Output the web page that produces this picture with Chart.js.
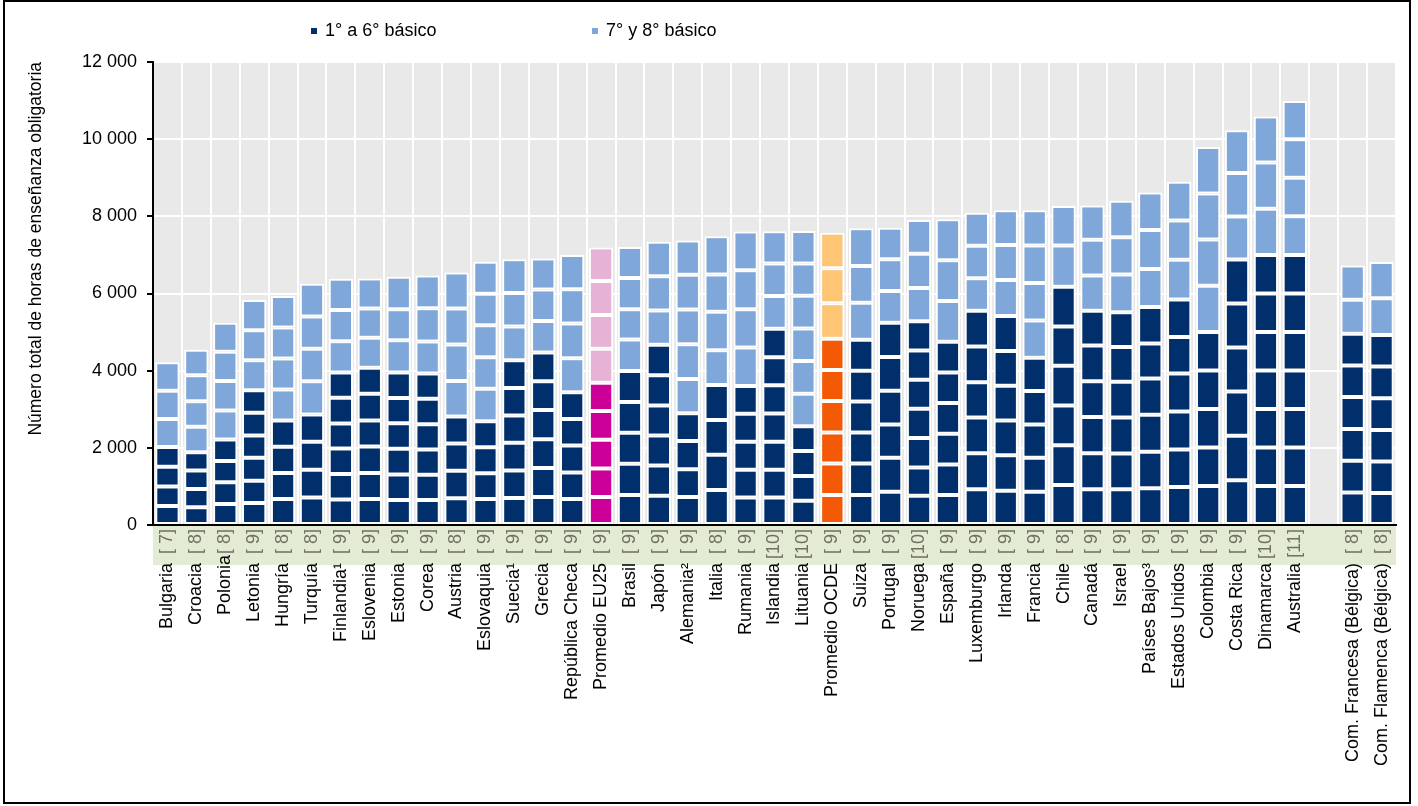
<!DOCTYPE html>
<html lang="es">
<head>
<meta charset="utf-8">
<title>Número total de horas de enseñanza obligatoria</title>
<script src="https://cdn.jsdelivr.net/npm/chart.js@4.4.1/dist/chart.umd.min.js"></script>
<style>
  html, body { margin: 0; padding: 0; background: #fff; }
  #grafico { display: block; }
</style>
</head>
<body>
<canvas id="grafico" width="1418" height="806"></canvas>
<script>
// Horas de enseñanza obligatoria por grado (cada segmento = un grado)

const paises = [
    'Bulgaria', 'Croacia', 'Polonia', 'Letonia', 'Hungría', 'Turquía', 'Finlandia¹', 'Eslovenia',
    'Estonia', 'Corea', 'Austria', 'Eslovaquia', 'Suecia¹', 'Grecia', 'República Checa', 'Promedio EU25',
    'Brasil', 'Japón', 'Alemania²', 'Italia', 'Rumania', 'Islandia', 'Lituania', 'Promedio OCDE',
    'Suiza', 'Portugal', 'Noruega', 'España', 'Luxemburgo', 'Irlanda', 'Francia', 'Chile',
    'Canadá', 'Israel', 'Países Bajos³', 'Estados Unidos', 'Colombia', 'Costa Rica', 'Dinamarca', 'Australia',
    '', 'Com. Francesa (Bélgica)', 'Com. Flamenca (Bélgica)'
];

// número de grados de la enseñanza obligatoria [n]
const nGrados = [7, 8, 8, 9, 8, 8, 9, 9, 9, 9, 8, 9, 9, 9, 9, 9, 9, 9, 9, 8, 9, 10, 10, 9,
    9, 9, 10, 9, 9, 9, 9, 8, 9, 9, 9, 9, 9, 9, 10, 11, null, 8, 8];

// cuántos de esos grados van en el color "1° a 6° básico"
const nBasico = [4, 4, 4, 6, 4, 4, 6, 6, 6, 6, 4, 4, 6, 6, 5, 5, 5, 6, 4, 4, 5, 7, 4, 6,
    6, 6, 7, 6, 6, 6, 5, 6, 6, 6, 6, 6, 5, 6, 7, 7, 0, 6, 6];

const grado1 = [490, 460, 545, 570, 675, 710, 660, 675, 650, 650, 695, 675, 700, 725, 675, 725,
    780, 760, 725, 910, 710, 710, 630, 780, 780, 865, 755, 780, 925, 890, 865, 1035,
    925, 925, 950, 985, 1010, 1160, 1010, 1010, null, 845, 830];
const grado2 = [510, 475, 560, 580, 675, 720, 660, 675, 660, 650, 710, 665, 710, 755, 685, 740,
    805, 780, 720, 910, 720, 720, 640, 815, 815, 875, 735, 790, 935, 915, 875, 1030,
    935, 925, 950, 975, 1000, 1150, 1000, 1000, null, 820, 815];
const grado3 = [510, 475, 555, 590, 675, 725, 660, 685, 665, 660, 710, 675, 720, 745, 700, 745,
    805, 780, 730, 900, 725, 725, 650, 805, 800, 865, 765, 795, 925, 905, 865, 1030,
    940, 935, 960, 980, 995, 1150, 995, 995, null, 820, 820];
const grado4 = [510, 475, 555, 580, 685, 710, 650, 675, 665, 650, 700, 675, 710, 755, 685, 745,
    795, 780, 720, 910, 730, 735, 640, 815, 805, 875, 755, 800, 915, 900, 865, 1030,
    925, 925, 940, 985, 1000, 1140, 1000, 1000, null, 830, 820];
const grado5 = [730, 660, 755, 590, 805, 860, 665, 690, 650, 665, 915, 840, 710, 745, 695, 735,
    805, 780, 890, 900, 720, 735, 840, 805, 795, 875, 755, 790, 925, 900, 865, 1020,
    925, 905, 905, 950, 995, 1140, 995, 995, null, 820, 820];
const grado6 = [730, 660, 760, 580, 800, 840, 660, 675, 660, 650, 945, 815, 720, 745, 885, 875,
    815, 790, 900, 995, 995, 725, 850, 805, 805, 885, 760, 795, 925, 905, 965, 1030,
    900, 900, 945, 970, 1200, 1140, 1000, 1000, null, 820, 820];
const grado7 = [740, 675, 760, 780, 805, 840, 805, 780, 840, 830, 935, 830, 875, 820, 900, 875,
    790, 890, 900, 970, 995, 735, 840, 920, 960, 825, 755, 1055, 845, 935, 970, 1070,
    915, 975, 985, 1030, 1200, 1115, 995, 995, null, 880, 950];
const grado8 = [null, 660, 755, 780, 815, 850, 815, 755, 805, 860, 935, 820, 865, 815, 885, 885,
    805, 890, 900, 990, 1005, 850, 850, 910, 955, 825, 865, 1055, 845, 905, 975, 1020,
    925, 965, 1010, 1020, 1195, 1130, 1200, 1010, null, 890, 940];
const grado9 = [null, null, null, 780, null, null, 805, 780, 840, 850, null, 825, 875, 805, 885, 865,
    805, 890, 890, null, 1005, 840, 840, 920, 975, 815, 885, 1065, 855, 900, 915, null,
    890, 950, 970, 1000, 1200, 1105, 1200, 995, null, null, null];
const grado10 = [null, null, null, null, null, null, null, null, null, null, null, null, null, null, null, null,
    null, null, null, null, null, 840, 840, null, null, null, 875, null, null, null, null, null,
    null, null, null, null, null, null, 1195, 995, null, null, null];
const grado11 = [null, null, null, null, null, null, null, null, null, null, null, null, null, null, null, null,
    null, null, null, null, null, null, null, null, null, null, null, null, null, null, null, null,
    null, null, null, null, null, null, null, 995, null, null, null];

const grados = [grado1, grado2, grado3, grado4, grado5, grado6, grado7, grado8, grado9, grado10, grado11];

const FUENTE = '"Liberation Sans", Arial, sans-serif';
const colorBasico = '#002F6C';
const colorMedio = '#7FA7D9';

function colorSegmento(ctx) {
    const i = ctx.dataIndex;
    const basico = ctx.datasetIndex < nBasico[i];
    if (paises[i] === 'Promedio EU25') return basico ? '#CC0099' : '#E6B2D6';
    if (paises[i] === 'Promedio OCDE') return basico ? '#F45A06' : '#FEC574';
    return basico ? colorBasico : colorMedio;
}

function formatoMiles(v) {
    return String(v).replace(/\B(?=(\d{3})+(?!\d))/g, ' ');
}

// fondo gris del área de datos
const fondoPlugin = {
    id: 'fondo',
    beforeDraw(chart) {
        const { ctx, chartArea: a } = chart;
        ctx.save();
        ctx.fillStyle = '#fff';
        ctx.fillRect(0, 0, chart.width, chart.height);
        ctx.fillStyle = '#E9E9E9';
        ctx.fillRect(a.left, a.top, a.right - a.left, a.bottom - a.top);
        ctx.restore();
    }
};

// etiquetas de países con [n], leyenda y marco
const etiquetasPlugin = {
    id: 'etiquetas',
    afterDraw(chart) {
        const { ctx, chartArea: a } = chart;
        const x = chart.scales.x;
        ctx.save();

        ctx.fillStyle = '#E3EBD4';
        ctx.fillRect(a.left, a.bottom + 1, a.right - a.left, 39);

        ctx.font = '18px ' + FUENTE;
        ctx.textBaseline = 'middle';
        ctx.textAlign = 'right';
        paises.forEach((p, i) => {
            if (!p) return;
            const cx = x.getPixelForValue(i);
            const corchete = '[' + String(nGrados[i]).padStart(2, ' ') + ']';
            ctx.save();
            ctx.translate(cx, 0);
            ctx.rotate(-Math.PI / 2);
            ctx.fillStyle = '#6E7262';
            ctx.fillText(corchete, -(a.bottom + 4), 0);
            ctx.fillStyle = '#000';
            ctx.fillText(p, -(a.bottom + (p === 'Polonia' ? 30 : 38)), 0);
            ctx.restore();
        });

        // leyenda
        ctx.textAlign = 'left';
        [[colorBasico, '1° a 6° básico', 311], [colorMedio, '7° y 8° básico', 592]].forEach(([c, t, x0]) => {
            ctx.fillStyle = c;
            ctx.fillRect(x0, 28, 6, 6);
            ctx.fillStyle = '#000';
            ctx.fillText(t, x0 + 14, 31);
        });

        ctx.strokeStyle = '#000';
        ctx.lineWidth = 2;
        ctx.strokeRect(4, 1, 1406, 802);
        ctx.restore();
    }
};

Chart.defaults.font.family = FUENTE;
Chart.defaults.color = '#000';

new Chart(document.getElementById('grafico'), {
    type: 'bar',
    data: {
        labels: paises,
        datasets: grados.map((d, g) => ({
            label: (g + 1) + '° grado',
            data: d,
            backgroundColor: colorSegmento,
            borderColor: '#fff',
            borderWidth: 2,
            borderSkipped: false,
            barPercentage: 0.84,
            categoryPercentage: 1
        }))
    },
    options: {
        responsive: false,
        animation: false,
        devicePixelRatio: 1,
        layout: { padding: { top: 62, right: 22, bottom: 0, left: 0 } },
        plugins: {
            legend: { display: false },
            tooltip: { enabled: true }
        },
        scales: {
            x: {
                stacked: true,
                ticks: { display: false },
                grid: { color: '#fff', lineWidth: 2, drawTicks: false, offset: true },
                border: { color: '#000', width: 2, z: 1 },
                afterFit(s) { s.height = 281; }
            },
            y: {
                stacked: true,
                min: 0,
                max: 12000,
                ticks: {
                    stepSize: 2000,
                    color: '#000',
                    font: { size: 18 },
                    padding: 10,
                    callback: v => formatoMiles(v)
                },
                grid: { color: '#fff', lineWidth: 2, tickColor: '#000', tickLength: 6, tickWidth: 2 },
                border: { color: '#000', width: 2, z: 1 },
                title: {
                    display: true,
                    text: 'Número total de horas de enseñanza obligatoria',
                    align: 'end',
                    color: '#000',
                    font: { size: 17.5 },
                    padding: { top: 26, bottom: 0 }
                },
                afterFit(s) { s.width = 153; }
            }
        }
    },
    plugins: [fondoPlugin, etiquetasPlugin]
});
</script>
</body>
</html>
